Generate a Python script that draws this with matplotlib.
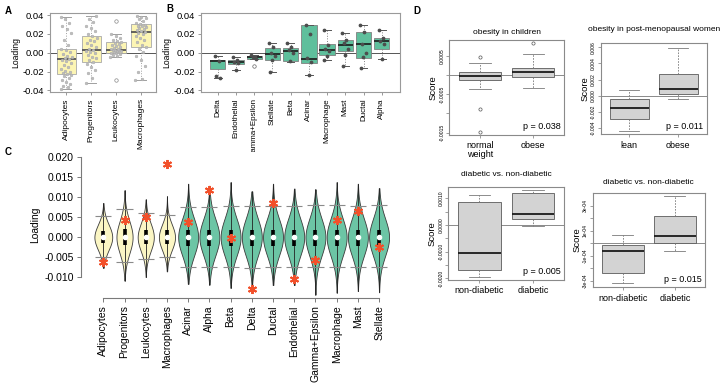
import matplotlib.pyplot as plt
import numpy as np

plt.rcParams['font.family'] = ['Liberation Sans', 'DejaVu Sans']

# ---- panel A: loadings by adipose cell type ----
a_names = ['Adipocytes', 'Progenitors', 'Leukocytes', 'Macrophages']
a_whislo = [-0.039, -0.032, -0.005, -0.029]
a_q1 = [-0.023, -0.010, 0.000, 0.006]
a_med = [-0.007, 0.003, 0.003, 0.022]
a_q3 = [0.004, 0.018, 0.011, 0.031]
a_whishi = [0.038, 0.039, 0.020, 0.039]
a_fliers = [[], [], [0.034, -0.029], []]
adip_pts = [-0.039, -0.037, -0.035, -0.033, -0.031, -0.029, -0.027, -0.025, -0.024,
            -0.023, -0.022, -0.021, -0.019, -0.017, -0.015, -0.013, -0.011, -0.009,
            -0.008, -0.007, -0.006, -0.005, -0.003, -0.001, 0.001, 0.003, 0.004,
            0.008, 0.014, 0.021, 0.025, 0.028, 0.032, 0.036, 0.038]
prog_pts = [-0.032, -0.027, -0.022, -0.018, -0.015, -0.012, -0.010, -0.008, -0.006,
            -0.004, -0.002, 0.000, 0.001, 0.002, 0.003, 0.004, 0.006, 0.008, 0.010,
            0.012, 0.014, 0.016, 0.018, 0.020, 0.023, 0.026, 0.029, 0.033, 0.036, 0.039]
leuk_pts = [-0.005, -0.003, -0.002, -0.001, 0.000, 0.000, 0.001, 0.001, 0.002, 0.002,
            0.003, 0.003, 0.003, 0.004, 0.004, 0.005, 0.006, 0.007, 0.008, 0.009,
            0.010, 0.011, 0.012, 0.014, 0.016, 0.018, 0.020]
mac_pts = [-0.029, -0.028, -0.020, -0.014, -0.008, -0.003, 0.001, 0.004, 0.006, 0.008,
           0.011, 0.014, 0.016, 0.018, 0.020, 0.021, 0.022, 0.023, 0.024, 0.025, 0.026,
           0.027, 0.028, 0.029, 0.030, 0.031, 0.032, 0.034, 0.036, 0.037, 0.038, 0.039]
a_points = [adip_pts, prog_pts, leuk_pts, mac_pts]

# ---- panel B: loadings by islet cell type ----
b_names = ['Delta', 'Endothelial', 'Gamma+Epsilon', 'Stellate', 'Beta', 'Acinar',
           'Macrophage', 'Mast', 'Ductal', 'Alpha']
b_whislo = [-0.027, -0.018, -0.007, -0.021, -0.0096, -0.024, -0.0082, -0.014, -0.016, -0.007]
b_q1 = [-0.017, -0.0125, -0.007, -0.0079, -0.0089, -0.0107, -0.0029, 0.0018, -0.0054, 0.0043]
b_med = [-0.009, -0.010, -0.0046, -0.0018, 0.0018, -0.0064, 0.0029, 0.0082, 0.0089, 0.0129]
b_q3 = [-0.0082, -0.0079, -0.003, 0.0054, 0.0046, 0.0293, 0.0089, 0.0136, 0.0221, 0.016]
b_whishi = [-0.003, -0.0043, -0.002, 0.0107, 0.0107, 0.030, 0.0243, 0.0207, 0.0296, 0.0243]
b_fliers = [[], [], [-0.0136], [], [], [], [], [], [], []]
b_points = [[-0.003, -0.009, -0.025, -0.027],
            [-0.0043, -0.008, -0.010, -0.011, -0.018],
            [-0.002, -0.004, -0.005, -0.007],
            [0.0107, 0.006, 0.000, -0.003, -0.008, -0.021],
            [0.0107, 0.006, 0.003, 0.000, -0.009],
            [0.030, 0.020, -0.006, -0.010, -0.024],
            [0.024, 0.008, 0.004, 0.002, -0.003, -0.008],
            [0.0207, 0.014, 0.010, 0.004, -0.002, -0.014],
            [0.030, 0.022, 0.009, 0.000, -0.005, -0.016],
            [0.024, 0.016, 0.013, 0.009, -0.007]]

# ---- panel C: null distributions (violins) and observed loadings ----
c_names = ['Adipocytes', 'Progenitors', 'Leukocytes', 'Macrophages', 'Acinar', 'Alpha',
           'Beta', 'Delta', 'Ductal', 'Endothelial', 'Gamma+Epsilon', 'Macrophage',
           'Mast', 'Stellate']
c_tissue = ['adipose'] * 4 + ['islet'] * 10
c_min = [-0.0076, -0.0108, -0.0099, -0.0085, -0.0116, -0.0118, -0.0126, -0.0122,
         -0.0119, -0.0119, -0.0143, -0.0138, -0.0134, -0.0137]
c_max = [0.0085, 0.0117, 0.0094, 0.0102, 0.0133, 0.0128, 0.0137, 0.0114, 0.0133,
         0.0121, 0.0119, 0.0137, 0.0133, 0.0122]
c_lo = [-0.0049, -0.0062, -0.0054, -0.0049, -0.0074, -0.0074, -0.0075, -0.0076,
        -0.0073, -0.0074, -0.0075, -0.0075, -0.0075, -0.0073]
c_hi = [0.0054, 0.0070, 0.0061, 0.0056, 0.0075, 0.0075, 0.0077, 0.0077, 0.0077,
        0.0078, 0.0079, 0.0079, 0.0077, 0.0080]
c_q1 = [-0.0015, -0.002, -0.0017, -0.0017, -0.0021, -0.0021, -0.0021, -0.0021,
        -0.0021, -0.0021, -0.0021, -0.0021, -0.0021, -0.0021]
c_q3 = [0.0016, 0.002, 0.0017, 0.0017, 0.0019, 0.0019, 0.0019, 0.0019, 0.0019,
        0.0019, 0.0019, 0.0019, 0.0019, 0.0019]
c_med = [0.0] * 14
c_observed = [-0.0061, 0.0044, 0.0051, 0.0183, 0.0038, 0.0117, -0.0002, -0.0130,
              0.0084, -0.0105, -0.0057, 0.0044, 0.0064, -0.0025]

# ---- panel D: score comparisons ----
d1_groups = ['normal\nweight', 'obese']
d1_whislo = [-0.00037, -0.00035]
d1_q1 = [-0.00013, -0.00004]
d1_med = [-0.00003, 0.00009]
d1_q3 = [0.00007, 0.00017]
d1_whishi = [0.00032, 0.00054]
d1_fliers = [[0.00046, -0.00089, -0.00148], [0.00083]]

d2_groups = ['lean', 'obese']
d2_whislo = [-0.00438, -0.00045]
d2_q1 = [-0.00285, 0.00021]
d2_med = [-0.00149, 0.00087]
d2_q3 = [-0.00037, 0.00264]
d2_whishi = [0.00074, 0.00595]

d3_groups = ['non-diabetic', 'diabetic']
d3_whislo = [-0.00196, -0.00004]
d3_q1 = [-0.00169, 0.00021]
d3_med = [-0.00104, 0.00040]
d3_q3 = [0.00087, 0.00121]
d3_whishi = [0.00111, 0.00130]

d4_groups = ['non-diabetic', 'diabetic']
d4_whislo = [-0.00032, -0.000061]
d4_q1 = [-0.00024, 0.0000053]
d4_med = [-0.000064, 0.0000587]
d4_q3 = [-0.000013, 0.000221]
d4_whishi = [0.0000667, 0.000381]

W, H = 720, 386
fig = plt.figure(figsize=(7.2, 3.86), dpi=100)


def px_axes(left, top, right, bottom):
    return fig.add_axes([left / W, 1 - bottom / H, (right - left) / W, (bottom - top) / H])


def make_stats(lo, q1, med, q3, hi, fliers=None):
    out = []
    for i in range(len(lo)):
        out.append(dict(whislo=lo[i], q1=q1[i], med=med[i], q3=q3[i], whishi=hi[i],
                        fliers=(fliers[i] if fliers else [])))
    return out


def jitter(n, spread):
    return ((np.arange(n) * 0.618034) % 1 - 0.5) * spread


def frame(ax, color='#9a9a9a'):
    for s in ax.spines.values():
        s.set_color(color)
        s.set_linewidth(0.8)


# ---------- A ----------
axA = px_axes(50, 13.5, 156, 92)
pos = np.arange(1, len(a_names) + 1)
axA.bxp(make_stats(a_whislo, a_q1, a_med, a_q3, a_whishi, a_fliers), positions=pos,
        widths=0.77, capwidths=0.38, patch_artist=True,
        boxprops=dict(facecolor='#fcf5b4', edgecolor='#a8a8a8', lw=0.6),
        medianprops=dict(color='#555555', lw=1.3),
        whiskerprops=dict(color='#a0a0a0', ls=':', lw=0.7),
        capprops=dict(color='#a0a0a0', lw=0.7),
        flierprops=dict(marker='o', ms=2.5, mfc='none', mec='#888888', mew=0.5))
for i, pts in enumerate(a_points):
    axA.plot(pos[i] + jitter(len(pts), 0.45), pts, 'o', ms=2.0, mfc='#bdbdbd',
             mec='#a5a5a5', mew=0.3, zorder=4)
axA.axhline(0, color='#555555', lw=0.7, zorder=1)
axA.set_xlim(0.35, 4.6)
axA.set_ylim(-0.0418, 0.0418)
axA.set_yticks([-0.04, -0.02, 0.0, 0.02, 0.04])
axA.set_yticklabels(['-0.04', '-0.02', '0.00', '0.02', '0.04'])
axA.set_xticks(pos)
axA.set_xticklabels(a_names, rotation=90, fontsize=6)
axA.tick_params(axis='y', labelsize=6.8, length=2.5, width=0.6, color='#888888', pad=1.5)
axA.tick_params(axis='x', length=2.5, width=0.6, color='#888888', pad=2)
axA.set_ylabel('Loading', fontsize=6.2, labelpad=2)
frame(axA)
fig.text(5 / W, 1 - 14 / H, 'A', fontsize=7, fontweight='bold')

# ---------- B ----------
axB = px_axes(201, 13.5, 400, 92)
pos = np.arange(1, len(b_names) + 1)
axB.bxp(make_stats(b_whislo, b_q1, b_med, b_q3, b_whishi, b_fliers), positions=pos,
        widths=0.84, capwidths=0.42, patch_artist=True,
        boxprops=dict(facecolor='#5fbf9c', edgecolor='#808080', lw=0.6),
        medianprops=dict(color='#1a1a1a', lw=1.2),
        whiskerprops=dict(color='#808080', ls=':', lw=0.7),
        capprops=dict(color='#555555', lw=0.7),
        flierprops=dict(marker='o', ms=2.5, mfc='none', mec='#666666', mew=0.5))
for i, pts in enumerate(b_points):
    axB.plot(pos[i] + jitter(len(pts), 0.35), pts, 'o', ms=1.7, color='#4d4d4d', zorder=4)
axB.axhline(0, color='#555555', lw=0.7, zorder=1)
axB.set_xlim(0.08, 11.0)
axB.set_ylim(-0.0418, 0.0418)
axB.set_yticks([-0.04, -0.02, 0.0, 0.02, 0.04])
axB.set_yticklabels(['-0.04', '-0.02', '0.00', '0.02', '0.04'])
axB.set_xticks(pos)
axB.set_xticklabels(b_names, rotation=90, fontsize=5.8)
axB.tick_params(axis='y', labelsize=6.8, length=2.5, width=0.6, color='#888888', pad=1.5)
axB.tick_params(axis='x', length=2.5, width=0.6, color='#888888', pad=2)
axB.set_ylabel('Loading', fontsize=6.2, labelpad=2)
frame(axB)
fig.text(166 / W, 1 - 12 / H, 'B', fontsize=7, fontweight='bold')

# ---------- C ----------
axC = px_axes(80.7, 152, 395, 298.3)
pos = np.arange(1, len(c_names) + 1)
vstats, widths = [], []
for i in range(len(c_names)):
    sd = (c_hi[i] - c_lo[i]) / 3.29
    coords = np.linspace(c_min[i], c_max[i], 200)
    vals = np.exp(-0.5 * ((coords - c_med[i]) / sd) ** 2)
    vstats.append(dict(coords=coords, vals=vals, mean=c_med[i], median=c_med[i],
                       min=c_min[i], max=c_max[i]))
    widths.append(0.94 if c_tissue[i] == 'islet' else (0.84 if i == 0 else 0.76))
parts = axC.violin(vstats, positions=pos, widths=widths, showmeans=False,
                   showextrema=False, showmedians=False)
for i, body in enumerate(parts['bodies']):
    body.set_facecolor('#6cc5a5' if c_tissue[i] == 'islet' else '#fbf6c4')
    body.set_edgecolor('#3a3a3a')
    body.set_linewidth(0.6)
    body.set_alpha(1)
axC.vlines(pos, c_min, c_max, color='#222222', lw=0.6, zorder=3)
axC.hlines(c_lo, pos - 0.38, pos + 0.38, color='#8a8a8a', lw=0.8, zorder=3)
axC.hlines(c_hi, pos - 0.38, pos + 0.38, color='#8a8a8a', lw=0.8, zorder=3)
axC.vlines(pos, c_q1, c_q3, color='black', lw=2.6, zorder=4)
axC.plot(pos, c_med, 'o', ms=3.0, color='white', mec='white', zorder=5)
axC.plot(pos, c_observed, marker=(6, 2, 0), ls='none', ms=6.5, mew=1.4,
         color='#f2502a', zorder=6)
axC.set_xlim(-0.066, 14.75)
axC.set_ylim(-0.0152, 0.0212)
axC.set_yticks([-0.010, -0.005, 0.0, 0.005, 0.010, 0.015, 0.020])
axC.set_yticklabels(['-0.010', '-0.005', '0.000', '0.005', '0.010', '0.015', '0.020'])
axC.set_xticks(pos)
axC.set_xticklabels(c_names, rotation=90, fontsize=7.3)
axC.spines['top'].set_visible(False)
axC.spines['right'].set_visible(False)
axC.spines['left'].set_bounds(-0.010, 0.020)
axC.spines['bottom'].set_bounds(1, 14)
for s in ('left', 'bottom'):
    axC.spines[s].set_color('#7a7a7a')
    axC.spines[s].set_linewidth(0.8)
axC.tick_params(axis='both', labelsize=7.5, length=3, width=0.7, color='#7a7a7a', pad=2)
axC.set_ylabel('Loading', fontsize=7.4, labelpad=3)
fig.text(5 / W, 1 - 155 / H, 'C', fontsize=7, fontweight='bold')


# ---------- D ----------
def rbox(ax, stats, groups, pval, title, ticks, labels, ylim, fliers=None, tpad=4):
    ax.bxp(make_stats(*stats, fliers), positions=[1, 2], widths=0.8, capwidths=0.4,
           patch_artist=True,
           boxprops=dict(facecolor='#d3d3d3', edgecolor='#5a5a5a', lw=0.6),
           medianprops=dict(color='#1a1a1a', lw=1.3),
           whiskerprops=dict(color='#7a7a7a', ls=(0, (2, 1.5)), lw=0.6),
           capprops=dict(color='#7a7a7a', lw=0.6),
           flierprops=dict(marker='o', ms=2.3, mfc='none', mec='#555555', mew=0.5))
    ax.axhline(0, color='#8a8a8a', lw=0.7, zorder=1)
    ax.set_xlim(0.42, 2.58)
    ax.set_ylim(*ylim)
    ax.set_yticks(ticks)
    ax.set_yticklabels(labels, rotation=90, va='center', fontsize=3.6)
    ax.set_xticks([1, 2])
    ax.set_xticklabels(groups, fontsize=6.5, linespacing=1.0)
    ax.tick_params(axis='both', length=2, width=0.5, color='#777777', pad=1.5)
    ax.tick_params(axis='x', pad=2.5)
    ax.set_ylabel('Score', fontsize=6.8, labelpad=1)
    ax.set_title(title, fontsize=6.0, pad=tpad)
    ax.text(0.97, 0.04, 'p = ' + pval, transform=ax.transAxes, ha='right', va='bottom',
            fontsize=6.5)
    frame(ax, '#8a8a8a')


axD1 = px_axes(449.3, 40, 564, 135)
rbox(axD1, (d1_whislo, d1_q1, d1_med, d1_q3, d1_whishi), d1_groups, '0.038',
     'obesity in children', [-0.0015, -0.0010, -0.0005, 0.0, 0.0005],
     ['-0.0015', '', '-0.0005', '', '0.0005'], (-0.001563, 0.000911), d1_fliers)

axD2 = px_axes(600.7, 43.3, 706.7, 134.3)
rbox(axD2, (d2_whislo, d2_q1, d2_med, d2_q3, d2_whishi), d2_groups, '0.011',
     'obesity in post-menopausal women', [-0.004, -0.002, 0.0, 0.002, 0.004, 0.006],
     ['-0.004', '-0.002', '0.000', '0.002', '0.004', '0.006'], (-0.0048, 0.00651),
     tpad=9)

axD3 = px_axes(448.3, 187.3, 564, 280)
rbox(axD3, (d3_whislo, d3_q1, d3_med, d3_q3, d3_whishi), d3_groups, '0.005',
     'diabetic vs. non-diabetic', [-0.0020, -0.0015, -0.0010, -0.0005, 0.0, 0.0005, 0.0010],
     ['-0.0020', '', '-0.0010', '', '0.0000', '', '0.0010'], (-0.00206, 0.00141), tpad=8)

axD4 = px_axes(592.7, 192.7, 705, 287.3)
rbox(axD4, (d4_whislo, d4_q1, d4_med, d4_q3, d4_whishi), d4_groups, '0.015',
     'diabetic vs. non-diabetic', [-3e-4, -2e-4, -1e-4, 0.0, 1e-4, 2e-4, 3e-4],
     ['-3e-04', '', '-1e-04', '', '1e-04', '', '3e-04'], (-0.000352, 0.000405), tpad=6)

fig.text(413 / W, 1 - 14 / H, 'D', fontsize=7, fontweight='bold')

fig.savefig('out.png', dpi=100)
